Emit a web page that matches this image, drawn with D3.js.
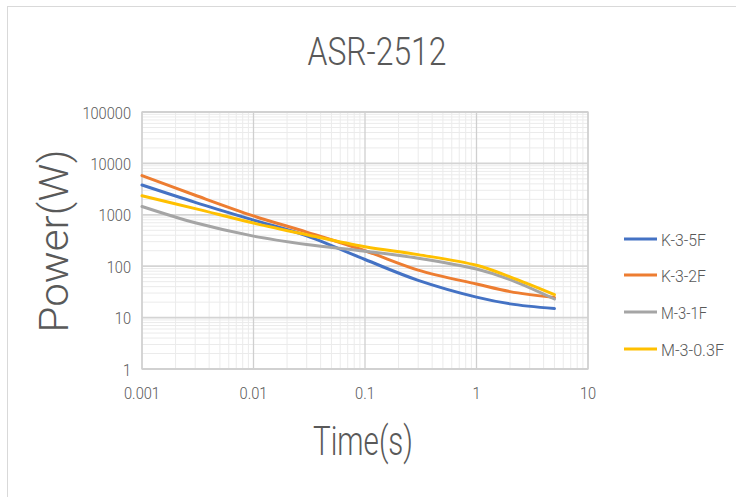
<!DOCTYPE html>
<html><head><meta charset="utf-8">
<script src="https://cdn.jsdelivr.net/npm/d3@7"></script>
<style>
body{margin:0;background:#fff;}
svg{display:block;}
text{font-family:Roboto,"Open Sans",sans-serif;font-weight:300;fill:#595959;}
</style></head>
<body><svg id="c" width="736" height="497"></svg>
<script>
const times = [0.001, 0.003, 0.01, 0.03, 0.1, 0.3, 1, 2, 5];
const seriesNames = ["K-3-5F", "K-3-2F", "M-3-1F", "M-3-0.3F"];
const k35F = [3800, 1750, 790, 390, 135, 53, 25, 18.5, 15];
const k32F = [5800, 2400, 950, 460, 200, 84, 45, 32, 24.5];
const m31F = [1450, 700, 385, 265, 195, 143, 88, 55, 23];
const m303F = [2350, 1320, 690, 410, 240, 168, 104, 62, 28];
const colors = ["#4472C4", "#ED7D31", "#A5A5A5", "#FFC000"];
const xTicks = [0.001, 0.01, 0.1, 1, 10];
const yTicks = [1, 10, 100, 1000, 10000, 100000];
const xTickLabels = ["0.001", "0.01", "0.1", "1", "10"];
const yTickLabels = ["1", "10", "100", "1000", "10000", "100000"];
const values = [k35F, k32F, m31F, m303F];

const svg = d3.select("#c");
svg.append("rect").attr("x", 7.5).attr("y", 6.5).attr("width", 760).attr("height", 520)
  .attr("fill", "none").attr("stroke", "#d9d9d9");

const x = d3.scaleLog().domain([0.001, 10]).range([142, 588]);
const y = d3.scaleLog().domain([1, 100000]).range([369, 112]);

const digitW = 8.1;
const lblW = s => s.split("").reduce((a, c) => a + (c === "." ? 3.6 : digitW), 0);

const g = svg.append("g");
const minorX = [], minorY = [];
for (let d = 0.001; d < 10; d *= 10) for (let m = 2; m <= 9; m++) minorX.push(d * m);
for (let d = 1; d < 100000; d *= 10) for (let m = 2; m <= 9; m++) minorY.push(d * m);
g.selectAll(".mx").data(minorX).enter().append("line")
  .attr("x1", d => x(d)).attr("x2", d => x(d)).attr("y1", 112).attr("y2", 369)
  .attr("stroke", "#ebebeb").attr("stroke-width", 1);
g.selectAll(".my").data(minorY).enter().append("line")
  .attr("y1", d => y(d)).attr("y2", d => y(d)).attr("x1", 142).attr("x2", 588)
  .attr("stroke", "#ebebeb").attr("stroke-width", 1);
g.selectAll(".Mx").data(xTicks).enter().append("line")
  .attr("x1", d => x(d)).attr("x2", d => x(d)).attr("y1", 112).attr("y2", 369)
  .attr("stroke", "#cfcfcf").attr("stroke-width", 1.3);
g.selectAll(".My").data(yTicks).enter().append("line")
  .attr("y1", d => y(d)).attr("y2", d => y(d)).attr("x1", 142).attr("x2", 588)
  .attr("stroke", "#d4d4d4").attr("stroke-width", 1.8);
g.append("rect").attr("x", 142).attr("y", 112).attr("width", 446).attr("height", 257)
  .attr("fill", "none").attr("stroke", "#d0d0d0").attr("stroke-width", 1.3);

svg.selectAll(".xl").data(xTicks).enter().append("text")
  .attr("x", d => x(d)).attr("y", 399).attr("text-anchor", "middle")
  .attr("font-size", 17).attr("textLength", (d, i) => lblW(xTickLabels[i])).attr("lengthAdjust", "spacingAndGlyphs")
  .text((d, i) => xTickLabels[i]);
svg.selectAll(".yl").data(yTicks).enter().append("text")
  .attr("x", 131).attr("y", d => y(d) + 6.5).attr("text-anchor", "end")
  .attr("font-size", 17).attr("textLength", (d, i) => lblW(yTickLabels[i])).attr("lengthAdjust", "spacingAndGlyphs")
  .text((d, i) => yTickLabels[i]);

const line = d3.line().x(d => x(d[0])).y(d => y(d[1])).curve(d3.curveCatmullRom.alpha(0.5));
values.forEach((vals, i) => {
  svg.append("path").datum(times.map((t, j) => [t, vals[j]]))
    .attr("d", line).attr("fill", "none").attr("stroke", colors[i])
    .attr("stroke-width", 3).attr("stroke-linecap", "round");
});

svg.append("text").attr("x", 377).attr("y", 65).attr("text-anchor", "middle")
  .attr("font-size", 39).attr("textLength", 139).attr("lengthAdjust", "spacingAndGlyphs").text("ASR-2512");
svg.append("text").attr("x", 363).attr("y", 455).attr("text-anchor", "middle")
  .attr("font-size", 41).attr("textLength", 100).attr("lengthAdjust", "spacingAndGlyphs").text("Time(s)");
svg.append("text").attr("transform", "translate(68,241) rotate(-90)").attr("text-anchor", "middle")
  .attr("font-size", 41).attr("textLength", 183).attr("lengthAdjust", "spacingAndGlyphs").text("Power(W)");

const ly = [239, 275, 312, 349];
const legW = [45, 45, 46, 63];
seriesNames.forEach((n, i) => {
  svg.append("line").attr("x1", 624).attr("x2", 657).attr("y1", ly[i]).attr("y2", ly[i])
    .attr("stroke", colors[i]).attr("stroke-width", 3);
  svg.append("text").attr("x", 661).attr("y", ly[i] + 6.5)
    .attr("font-size", 17).attr("textLength", legW[i]).attr("lengthAdjust", "spacingAndGlyphs").text(n);
});
</script></body></html>
